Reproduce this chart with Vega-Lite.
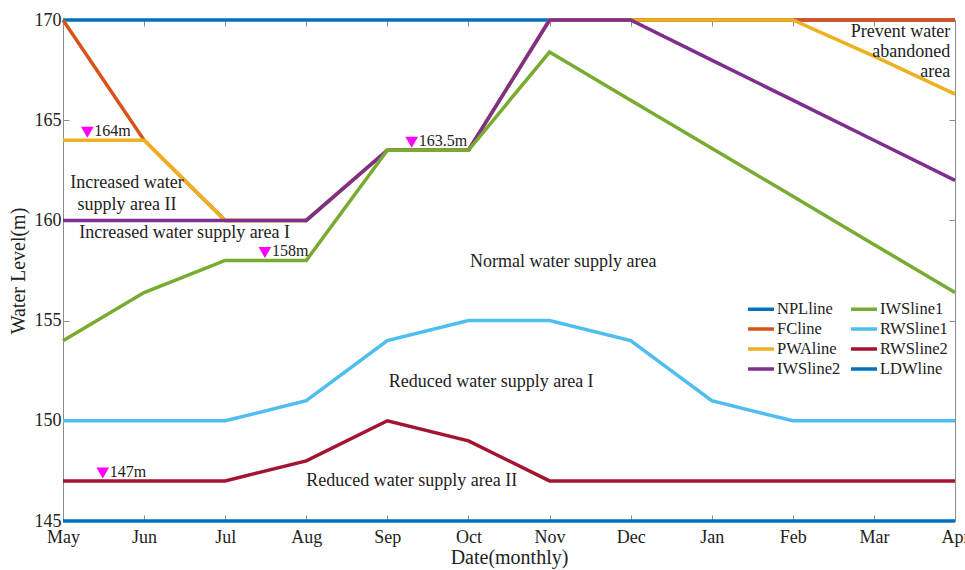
{
  "$schema": "https://vega.github.io/schema/vega-lite/v6.json",
  "autosize": {"type": "none"},
  "width": 892,
  "height": 501,
  "padding": {"left": 63, "top": 20, "right": 10, "bottom": 49},
  "background": "white",
  "config": {
    "view": {"stroke": null},
    "font": "Liberation Serif",
    "axis": {
      "labelFont": "Liberation Serif",
      "titleFont": "Liberation Serif",
      "labelColor": "#222",
      "titleColor": "#222",
      "titleFontWeight": "normal",
      "labelFontSize": 18,
      "titleFontSize": 20,
      "domainColor": "#8c8c8c",
      "tickColor": "#8c8c8c",
      "grid": false
    }
  },
  "datasets": {
    "levels": [
      {"series": "NPLline", "m": 0, "level": 170}, {"series": "NPLline", "m": 1, "level": 170}, {"series": "NPLline", "m": 2, "level": 170}, {"series": "NPLline", "m": 3, "level": 170}, {"series": "NPLline", "m": 4, "level": 170}, {"series": "NPLline", "m": 5, "level": 170}, {"series": "NPLline", "m": 6, "level": 170}, {"series": "NPLline", "m": 7, "level": 170}, {"series": "NPLline", "m": 8, "level": 170}, {"series": "NPLline", "m": 9, "level": 170}, {"series": "NPLline", "m": 10, "level": 170}, {"series": "NPLline", "m": 11, "level": 170},
      {"series": "FCline", "m": 0, "level": 170}, {"series": "FCline", "m": 1, "level": 164}, {"series": "FCline", "m": 2, "level": 160}, {"series": "FCline", "m": 3, "level": 160}, {"series": "FCline", "m": 4, "level": 163.5}, {"series": "FCline", "m": 5, "level": 163.5}, {"series": "FCline", "m": 6, "level": 170}, {"series": "FCline", "m": 7, "level": 170}, {"series": "FCline", "m": 8, "level": 170}, {"series": "FCline", "m": 9, "level": 170}, {"series": "FCline", "m": 10, "level": 170}, {"series": "FCline", "m": 11, "level": 170},
      {"series": "PWAline", "m": 0, "level": 164}, {"series": "PWAline", "m": 1, "level": 164}, {"series": "PWAline", "m": 2, "level": 160}, {"series": "PWAline", "m": 3, "level": 160}, {"series": "PWAline", "m": 4, "level": 163.5}, {"series": "PWAline", "m": 5, "level": 163.5}, {"series": "PWAline", "m": 6, "level": 170}, {"series": "PWAline", "m": 7, "level": 170}, {"series": "PWAline", "m": 8, "level": 170}, {"series": "PWAline", "m": 9, "level": 170}, {"series": "PWAline", "m": 10, "level": 168.2}, {"series": "PWAline", "m": 11, "level": 166.3},
      {"series": "IWSline2", "m": 0, "level": 160}, {"series": "IWSline2", "m": 1, "level": 160}, {"series": "IWSline2", "m": 2, "level": 160}, {"series": "IWSline2", "m": 3, "level": 160}, {"series": "IWSline2", "m": 4, "level": 163.5}, {"series": "IWSline2", "m": 5, "level": 163.5}, {"series": "IWSline2", "m": 6, "level": 170}, {"series": "IWSline2", "m": 7, "level": 170}, {"series": "IWSline2", "m": 8, "level": 168}, {"series": "IWSline2", "m": 9, "level": 166}, {"series": "IWSline2", "m": 10, "level": 164}, {"series": "IWSline2", "m": 11, "level": 162},
      {"series": "IWSline1", "m": 0, "level": 154}, {"series": "IWSline1", "m": 1, "level": 156.4}, {"series": "IWSline1", "m": 2, "level": 158}, {"series": "IWSline1", "m": 3, "level": 158}, {"series": "IWSline1", "m": 4, "level": 163.5}, {"series": "IWSline1", "m": 5, "level": 163.5}, {"series": "IWSline1", "m": 6, "level": 168.4}, {"series": "IWSline1", "m": 7, "level": 166}, {"series": "IWSline1", "m": 8, "level": 163.6}, {"series": "IWSline1", "m": 9, "level": 161.2}, {"series": "IWSline1", "m": 10, "level": 158.8}, {"series": "IWSline1", "m": 11, "level": 156.4},
      {"series": "RWSline1", "m": 0, "level": 150}, {"series": "RWSline1", "m": 1, "level": 150}, {"series": "RWSline1", "m": 2, "level": 150}, {"series": "RWSline1", "m": 3, "level": 151}, {"series": "RWSline1", "m": 4, "level": 154}, {"series": "RWSline1", "m": 5, "level": 155}, {"series": "RWSline1", "m": 6, "level": 155}, {"series": "RWSline1", "m": 7, "level": 154}, {"series": "RWSline1", "m": 8, "level": 151}, {"series": "RWSline1", "m": 9, "level": 150}, {"series": "RWSline1", "m": 10, "level": 150}, {"series": "RWSline1", "m": 11, "level": 150},
      {"series": "RWSline2", "m": 0, "level": 147}, {"series": "RWSline2", "m": 1, "level": 147}, {"series": "RWSline2", "m": 2, "level": 147}, {"series": "RWSline2", "m": 3, "level": 148}, {"series": "RWSline2", "m": 4, "level": 150}, {"series": "RWSline2", "m": 5, "level": 149}, {"series": "RWSline2", "m": 6, "level": 147}, {"series": "RWSline2", "m": 7, "level": 147}, {"series": "RWSline2", "m": 8, "level": 147}, {"series": "RWSline2", "m": 9, "level": 147}, {"series": "RWSline2", "m": 10, "level": 147}, {"series": "RWSline2", "m": 11, "level": 147},
      {"series": "LDWline", "m": 0, "level": 145}, {"series": "LDWline", "m": 1, "level": 145}, {"series": "LDWline", "m": 2, "level": 145}, {"series": "LDWline", "m": 3, "level": 145}, {"series": "LDWline", "m": 4, "level": 145}, {"series": "LDWline", "m": 5, "level": 145}, {"series": "LDWline", "m": 6, "level": 145}, {"series": "LDWline", "m": 7, "level": 145}, {"series": "LDWline", "m": 8, "level": 145}, {"series": "LDWline", "m": 9, "level": 145}, {"series": "LDWline", "m": 10, "level": 145}, {"series": "LDWline", "m": 11, "level": 145}
    ],
    "markers": [
      {"m": 0.3, "level": 164, "label": "164m"},
      {"m": 2.49, "level": 158, "label": "158m"},
      {"m": 4.3, "level": 163.5, "label": "163.5m"},
      {"m": 0.49, "level": 147, "label": "147m"}
    ],
    "zones": [
      {"m": 0.79, "level": 161.87, "text": ["Increased water", "supply area II"]},
      {"m": 1.5, "level": 159.37, "text": ["Increased water supply area I"]},
      {"m": 6.17, "level": 157.92, "text": ["Normal water supply area"]},
      {"m": 5.28, "level": 151.94, "text": ["Reduced water supply area I"]},
      {"m": 4.3, "level": 147.0, "text": ["Reduced water supply area II"]}
    ],
    "corner": [
      {"m": 10.94, "level": 169.4, "text": ["Prevent water", "abandoned", "area"]}
    ]
  },
  "layer": [
    {
      "data": {"name": "levels"},
      "mark": {"type": "line", "strokeWidth": 3.5, "strokeCap": "butt", "strokeJoin": "miter"},
      "encoding": {
        "x": {
          "field": "m", "type": "quantitative",
          "scale": {"domain": [0, 11], "nice": false, "zero": false},
          "axis": {
            "title": "Date(monthly)", "titlePadding": 1,
            "values": [0, 1, 2, 3, 4, 5, 6, 7, 8, 9, 10, 11],
            "labelExpr": "['May','Jun','Jul','Aug','Sep','Oct','Nov','Dec','Jan','Feb','Mar','Apr'][datum.value]",
            "tickSize": -6, "labelPadding": 13, "labelFlush": false, "labelOverlap": false
          }
        },
        "y": {
          "field": "level", "type": "quantitative",
          "scale": {"domain": [145, 170], "nice": false, "zero": false},
          "axis": {
            "title": "Water Level(m)", "titlePadding": 6,
            "values": [145, 150, 155, 160, 165, 170],
            "tickSize": -6, "labelPadding": 8
          }
        },
        "color": {
          "field": "series", "type": "nominal",
          "scale": {
            "domain": ["NPLline", "FCline", "PWAline", "IWSline2", "IWSline1", "RWSline1", "RWSline2", "LDWline"],
            "range": ["#0072BD", "#D95319", "#EDB120", "#7E2F8E", "#77AC30", "#4DBEEE", "#A2142F", "#0072BD"]
          },
          "legend": {
            "title": null, "orient": "none", "legendX": 687, "legendY": 278,
            "columns": 2, "columnPadding": 3, "rowPadding": -3,
            "symbolType": "M-1.45,0H1.45", "symbolSize": 320, "symbolStrokeWidth": 3.5,
            "labelFont": "Liberation Serif", "labelFontSize": 16.5, "labelColor": "#222",
            "labelOffset": 5
          }
        }
      }
    },
    {
      "data": {"name": "markers"},
      "mark": {"type": "point", "shape": "triangle-down", "filled": true, "color": "#FF00FF", "size": 160, "opacity": 1, "yOffset": -8},
      "encoding": {
        "x": {"field": "m", "type": "quantitative", "axis": {"orient": "top", "title": null, "labels": false, "values": [0, 1, 2, 3, 4, 5, 6, 7, 8, 9, 10, 11], "tickSize": -6}},
        "y": {"field": "level", "type": "quantitative", "axis": {"orient": "right", "title": null, "labels": false, "values": [145, 150, 155, 160, 165, 170], "tickSize": -6}}
      }
    },
    {
      "data": {"name": "markers"},
      "mark": {"type": "text", "align": "left", "baseline": "middle", "dx": 7, "dy": -9, "fontSize": 16, "color": "#222", "font": "Liberation Serif"},
      "encoding": {
        "x": {"field": "m", "type": "quantitative", "axis": null},
        "y": {"field": "level", "type": "quantitative", "axis": null},
        "text": {"field": "label"}
      }
    },
    {
      "data": {"name": "zones"},
      "mark": {"type": "text", "align": "center", "baseline": "middle", "fontSize": 18, "lineHeight": 22, "color": "#222", "font": "Liberation Serif"},
      "encoding": {
        "x": {"field": "m", "type": "quantitative", "axis": null},
        "y": {"field": "level", "type": "quantitative", "axis": null},
        "text": {"field": "text"}
      }
    },
    {
      "data": {"name": "corner"},
      "mark": {"type": "text", "align": "right", "baseline": "middle", "fontSize": 18, "lineHeight": 20, "color": "#222", "font": "Liberation Serif"},
      "encoding": {
        "x": {"field": "m", "type": "quantitative", "axis": null},
        "y": {"field": "level", "type": "quantitative", "axis": null},
        "text": {"field": "text"}
      }
    }
  ],
  "resolve": {"axis": {"x": "independent", "y": "independent"}}
}
